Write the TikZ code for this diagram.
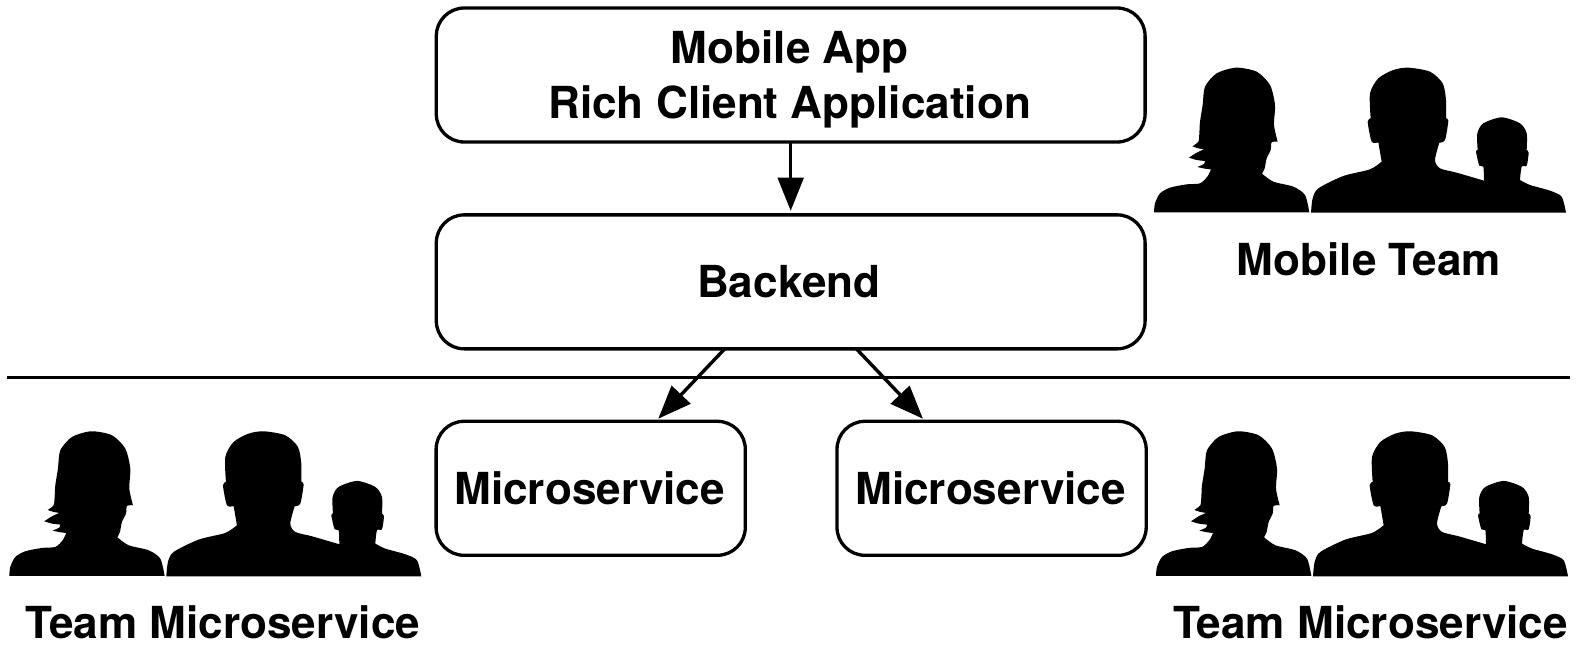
\documentclass[tikz,border=0pt]{standalone}
\usepackage{fontspec}
\setmainfont{TeX Gyre Heros}
\usetikzlibrary{arrows.meta,calc}
\tikzset{
  panel/.style={draw=black,line width=1.65pt,rounded corners=14pt,fill=white,outer sep=0pt,inner sep=0pt,align=center,font=\bfseries\fontsize{22.05}{27.4}\selectfont},
  widepanel/.style={panel,minimum width=354.4pt,minimum height=67pt},
  smallpanel/.style={panel,minimum width=154.6pt,minimum height=67pt},
  caption/.style={font=\bfseries\fontsize{22.05}{27}\selectfont,inner sep=0pt,text height=15.8pt,text depth=0pt},
  link/.style={line width=1.7pt,-{Triangle[length=16.6pt,width=12.8pt]}},
  soft/.style={smooth,tension=.45},
  team/.pic={
    \fill[black,scale=1/3]
      (72,487) -- plot[soft] coordinates {(72,487) (75,460) (90,430) (120,413) (170,403) (210,400) (232,380) (243,358)}
      -- plot[soft] coordinates {(243,358) (225,356) (202,351)}
      -- plot[soft] coordinates {(202,351) (222,342) (225,333)}
      -- plot[soft] coordinates {(225,333) (200,330) (177,323)}
      -- plot[soft] coordinates {(177,323) (200,308) (222,298)}
      -- plot[soft] coordinates {(222,298) (205,295) (187,289)}
      -- plot[soft] coordinates {(187,289) (205,275) (208,250) (210,215) (218,165) (225,110) (260,70) (318,53) (380,65) (420,105) (435,165) (432,225) (443,275)}
      -- plot[soft] coordinates {(443,275) (425,277) (422,300) (410,325) (404,355) (396,371)}
      -- plot[soft] coordinates {(396,371) (430,395) (490,410) (525,435) (538,487)}
      -- cycle;
    \fill[black,scale=1/3]
      (543,488) -- plot[soft] coordinates {(543,488) (548,445) (565,415) (640,378) (720,358) (755,335)}
      -- plot[soft] coordinates {(755,335) (745,277)}
      -- plot[soft] coordinates {(745,277) (725,275) (713,215) (722,205)}
      -- plot[soft] coordinates {(722,205) (720,130) (745,85) (790,60) (835,53) (900,65) (938,100) (948,150) (948,205)}
      -- plot[soft] coordinates {(948,205) (955,212) (945,270) (928,278)}
      -- plot[soft] coordinates {(928,278) (915,330) (930,355) (980,368) (1062,392)}
      -- plot[soft] coordinates {(1062,392) (1060,350) (1048,347) (1038,305) (1043,300)}
      -- plot[soft] coordinates {(1043,300) (1042,250) (1060,220) (1115,202) (1170,220) (1190,250) (1190,300)}
      -- plot[soft] coordinates {(1190,300) (1196,308) (1190,347) (1175,350) (1170,390)}
      -- plot[soft] coordinates {(1170,390) (1200,405) (1260,422) (1295,440) (1308,488)}
      -- cycle;
  }
}
\begin{document}
\begin{tikzpicture}[x=0.5pt,y=-0.5pt]
\useasboundingbox (0,0) rectangle (1586,665);
\fill[white] (0,0) rectangle (1586,665);
\node[widepanel] (app) at (790.7,75) {\rule{0pt}{21.2pt}Mobile App\hspace*{1pt}\\Rich Client Application\hspace*{1pt}};
\node[widepanel,text height=15.8pt,text depth=0pt] (backend) at (790.7,281.85) {Backend\hspace*{2pt}};
\node[smallpanel,text height=16.3pt,text depth=0pt] (msa) at (590.7,488.3) {Microservice\hspace*{1pt}};
\node[smallpanel,text height=16.3pt,text depth=0pt] (msb) at (991.6,488.3) {Microservice\hspace*{1pt}};
\coordinate (ruleL) at (7,377.7);
\coordinate (ruleR) at (1570,377.7);
\draw[line width=1.35pt] (ruleL) -- (ruleR);
\draw[link] (app.south) -- ($(backend.north)+(0,-4)$);
\draw[link] ($(backend.south)+(-66,0)$) -- ($(msa.north)+(67.6,-2.6)$);
\draw[link] ($(backend.south)+(65.7,0)$) -- ($(msb.north)+(-68.7,-2.6)$);
\pic at (1130,50) {team};
\pic at (1132,413.6) {team};
\pic at (-14.7,413.6) {team};
\node[caption] (mobileteam) at (1369,260) {Mobile Team};
\node[caption] (teama) at (222.8,622.8) {Team Microservice};
\node[caption] (teamb) at (1370.5,622.8) {Team Microservice};
\end{tikzpicture}
\end{document}
